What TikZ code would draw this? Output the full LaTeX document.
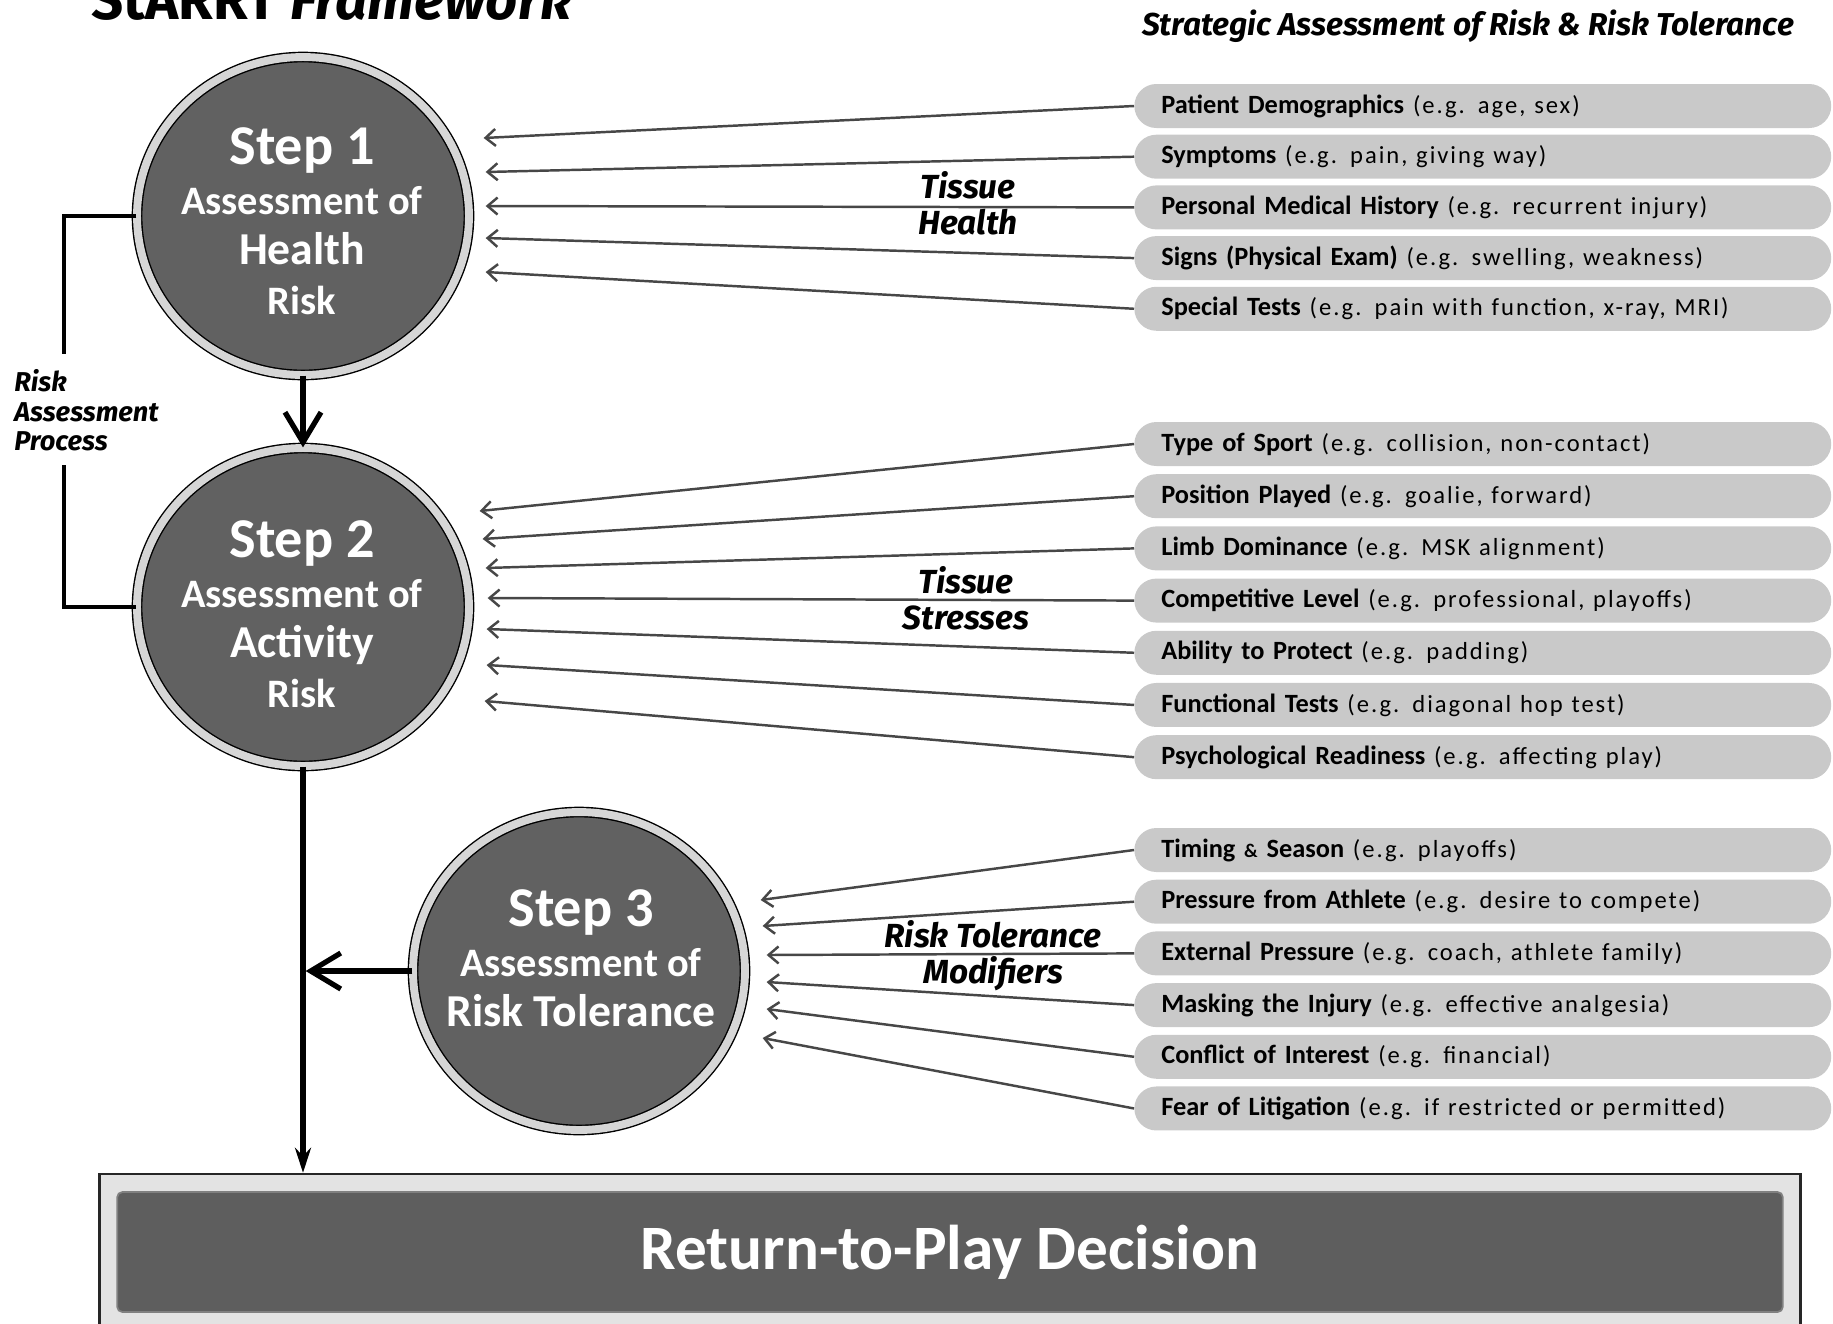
\documentclass[tikz,border=0pt]{standalone}
\usepackage{fontspec}
\setmainfont{Carlito}
\newfontfamily\headfont{Fira Sans}
\usetikzlibrary{arrows.meta, positioning, fit, backgrounds, shapes.geometric, calc}
\colorlet{stepfill}{black!62}
\colorlet{ringgray}{black!16}
\colorlet{pillgray}{black!21}
\colorlet{feedgray}{black!72}
\colorlet{framegray}{black!11}
\colorlet{rtpfill}{black!63}
\newcommand{\egtext}[1]{{\mdseries\fontsize{14}{18}\selectfont\addfontfeature{LetterSpace=8}#1}}

\begin{document}
\begin{tikzpicture}[x=0.02cm, y=-0.02cm,
    stepnode/.style={
        ellipse, minimum width=6.64cm, minimum height=6.36cm, inner sep=0pt,
        fill=stepfill, draw=black, line width=0.8pt,
        double=ringgray, double distance=4.5pt
    },
    steptext/.style={
        align=center, text=white, inner sep=0pt,
        font=\bfseries\fontsize{23}{28.5}\selectfont
    },
    pill/.style={
        rectangle, rounded corners=0.44cm, anchor=west,
        minimum height=0.88cm, text width=12.86cm, align=left,
        inner xsep=0.54cm, inner ysep=0pt, fill=pillgray,
        font=\bfseries\fontsize{15}{18}\selectfont
    },
    feed/.style={
        draw=feedgray, line width=1.4pt,
        -{Straight Barb[length=0.2cm, width=0.34cm]}
    },
    main/.style={
        draw=black, line width=3pt,
        -{Straight Barb[length=0.6cm, width=0.72cm]}
    },
    final/.style={
        draw=black, line width=3pt,
        -{Stealth[length=0.5cm, width=0.32cm]}
    },
    bracket/.style={draw=black, line width=2.2pt},
    midlabel/.style={
        align=center, inner sep=0pt,
        font=\headfont\bfseries\itshape\fontsize{19}{20.5}\selectfont
    },
    sidelabel/.style={
        anchor=west, align=left, inner sep=0pt,
        font=\headfont\bfseries\itshape\fontsize{15.5}{16.8}\selectfont
    },
    headline/.style={
        anchor=base west, inner sep=0pt,
        font=\headfont\bfseries\fontsize{32}{36}\selectfont
    },
    subhead/.style={
        anchor=base, inner sep=0pt,
        font=\headfont\bfseries\itshape\fontsize{18}{20}\selectfont
    },
    rtpbox/.style={
        rectangle, rounded corners=3pt,
        minimum width=33.32cm, minimum height=2.4cm,
        fill=rtpfill, draw=black!50, line width=1pt, text=white,
        font=\bfseries\fontsize{36}{40}\selectfont
    },
    rtpframe/.style={
        rectangle, fill=framegray, draw=black!85,
        line width=1.5pt, inner sep=0.34cm
    }
]
\useasboundingbox (0,0) rectangle (1833,1323);

% ===== Titles =====
\node[headline] (title) at (91,19) {StARRT \textit{Framework}};
\node[subhead] (subtitle) at (1468,35.5) {Strategic Assessment of Risk \& Risk Tolerance};

% ===== Steps =====
\node[stepnode] (s1) at (303,216) {};
\node[steptext] (s1txt) at (302,221) {{\fontsize{32}{28.5}\selectfont Step 1}\\ Assessment of\\ {\fontsize{26}{28.5}\selectfont Health}\\ Risk};
\node[stepnode] (s2) at (303,607) {};
\node[steptext] (s2txt) at (302,614) {{\fontsize{32}{28.5}\selectfont Step 2}\\ Assessment of\\ {\fontsize{26}{28.5}\selectfont Activity}\\ Risk};
\node[stepnode] (s3) at (579,971) {};
\node[steptext] (s3txt) at (581,958) {{\fontsize{32}{28.5}\selectfont Step 3}\\ Assessment of\\ {\fontsize{26}{28.5}\selectfont Risk Tolerance}};

\node[sidelabel] (rap) at (14,410.5) {Risk\\Assessment\\Process};

% ===== Tissue health factors =====
\node[pill] (hp1) at (1134,106) {Patient Demographics \egtext{(e.g. age, sex)}};
\node[pill, below=0.12cm of hp1] (hp2) {Symptoms \egtext{(e.g. pain, giving way)}};
\node[pill, below=0.12cm of hp2] (hp3) {Personal Medical History \egtext{(e.g. recurrent injury)}};
\node[pill, below=0.12cm of hp3] (hp4) {Signs (Physical Exam) \egtext{(e.g. swelling, weakness)}};
\node[pill, below=0.12cm of hp4] (hp5) {Special Tests \egtext{(e.g. pain with function, x-ray, MRI)}};

% ===== Tissue stress factors =====
\node[pill] (ap1) at (1134,444) {Type of Sport \egtext{(e.g. collision, non-contact)}};
\node[pill, below=0.15cm of ap1] (ap2) {Position Played \egtext{(e.g. goalie, forward)}};
\node[pill, below=0.15cm of ap2] (ap3) {Limb Dominance \egtext{(e.g. MSK alignment)}};
\node[pill, below=0.15cm of ap3] (ap4) {Competitive Level \egtext{(e.g. professional, playoffs)}};
\node[pill, below=0.15cm of ap4] (ap5) {Ability to Protect \egtext{(e.g. padding)}};
\node[pill, below=0.15cm of ap5] (ap6) {Functional Tests \egtext{(e.g. diagonal hop test)}};
\node[pill, below=0.15cm of ap6] (ap7) {Psychological Readiness \egtext{(e.g. affecting play)}};

% ===== Risk tolerance modifiers =====
\node[pill] (tp1) at (1134,850) {Timing {\fontsize{11}{12}\selectfont\&} Season \egtext{(e.g. playoffs)}};
\node[pill, below=0.14cm of tp1] (tp2) {Pressure from Athlete \egtext{(e.g. desire to compete)}};
\node[pill, below=0.14cm of tp2] (tp3) {External Pressure \egtext{(e.g. coach, athlete family)}};
\node[pill, below=0.14cm of tp3] (tp4) {Masking the Injury \egtext{(e.g. effective analgesia)}};
\node[pill, below=0.14cm of tp4] (tp5) {Conflict of Interest \egtext{(e.g. financial)}};
\node[pill, below=0.14cm of tp5] (tp6) {Fear of Litigation \egtext{(e.g. if restricted or permitted)}};

\node[midlabel] (health) at (968,203) {Tissue\\Health};
\node[midlabel] (stress) at (966,598) {Tissue\\Stresses};
\node[midlabel] (tolmod) at (993,956) {Risk Tolerance\\Modifiers};

% ===== Decision =====
\node[rtpbox] (rtp) at (950,1252) {Return-to-Play Decision};
\begin{scope}[on background layer]
    \node[rtpframe, fit=(rtp)] (frame) {};
\end{scope}

% ===== Feeding arrows =====
\draw[feed] (hp1.west) -- ($(s1.east)+(14,-78)$);
\draw[feed] (hp2.west) -- ($(s1.east)+(16,-44)$);
\draw[feed] (hp3.west) -- ($(s1.east)+(16,-10)$);
\draw[feed] (hp4.west) -- ($(s1.east)+(16,22)$);
\draw[feed] (hp5.west) -- ($(s1.east)+(16,56)$);

\draw[feed] (ap1.west) -- ($(s2.east)+(10,-96)$);
\draw[feed] (ap2.west) -- ($(s2.east)+(13,-68)$);
\draw[feed] (ap3.west) -- ($(s2.east)+(16,-39)$);
\draw[feed] (ap4.west) -- ($(s2.east)+(18,-9)$);
\draw[feed] (ap5.west) -- ($(s2.east)+(17,22)$);
\draw[feed] (ap6.west) -- ($(s2.east)+(17,58)$);
\draw[feed] (ap7.west) -- ($(s2.east)+(15,94)$);

\draw[feed] (tp1.west) -- ($(s3.east)+(15,-71)$);
\draw[feed] (tp2.west) -- ($(s3.east)+(17,-45)$);
\draw[feed] (tp3.west) -- ($(s3.east)+(21,-16)$);
\draw[feed] (tp4.west) -- ($(s3.east)+(21,11)$);
\draw[feed] (tp5.west) -- ($(s3.east)+(21,38)$);
\draw[feed] (tp6.west) -- ($(s3.east)+(17,67)$);

% ===== Process flow =====
\coordinate (brtop) at (64,354);
\coordinate (brbot) at (64,465);
\draw[bracket] (s1.west) -| (brtop);
\draw[bracket] (brbot) |- (s2.west);

\draw[main] (s1.south) -- (s2.north);
\coordinate (join) at (s2.south |- s3.west);
\draw[main, shorten >=1.5pt] (s3.west) -- (join);
\draw[final] (s2.south) -- (s2.south |- frame.north);

\end{tikzpicture}
\end{document}
